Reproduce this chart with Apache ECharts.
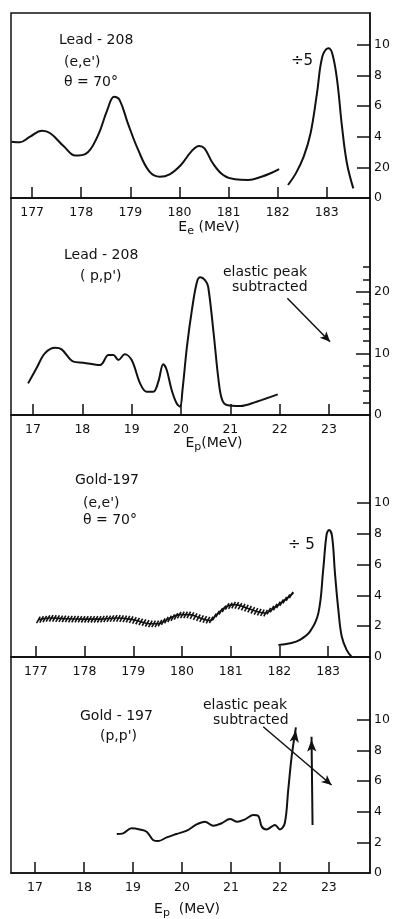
<!DOCTYPE html>
<html>
<head>
<meta charset="utf-8">
<script src="https://cdn.jsdelivr.net/npm/echarts@6/dist/echarts.min.js"></script>
<style>
html,body{margin:0;padding:0;background:#fff;}
#chart{width:394px;height:919px;}
</style>
</head>
<body>
<div id="chart"></div>
<script>
// ---------- Panel 1: Lead-208 (e,e') ----------
const p1TickX = [177, 178, 179, 180, 181, 182, 183];
const p1TickLabelsY = ['0', '20', '4', '6', '8', '10'];
const p1TickValsY = [0, 2, 4, 6, 8, 10];
const p1X = [176.58, 176.75, 176.96, 177.20, 177.37, 177.65, 177.88, 178.09, 178.33, 178.53, 178.67, 178.78, 178.95, 179.16, 179.39, 179.60, 179.80, 180.03, 180.24, 180.40, 180.51, 180.68, 180.89, 181.13, 181.40, 181.67, 181.88, 182.03];
const p1Y = [3.68, 3.64, 4.01, 4.40, 4.23, 3.36, 2.77, 2.88, 4.01, 5.75, 6.62, 6.41, 4.88, 3.14, 1.72, 1.39, 1.55, 2.16, 3.03, 3.40, 3.25, 2.27, 1.50, 1.22, 1.18, 1.39, 1.65, 1.88];
const p1PeakX = [182.21, 182.37, 182.53, 182.67, 182.80, 182.91, 183.03, 183.11, 183.21, 183.31, 183.41, 183.54];
const p1PeakY = [0.85, 1.61, 2.70, 4.23, 6.84, 9.24, 9.78, 9.46, 7.71, 4.66, 2.27, 0.63];

// ---------- Panel 2: Lead-208 (p,p') ----------
const p2TickX = [17, 18, 19, 20, 21, 22, 23];
const p2MajorY = [0, 10, 20];
const p2MinorY = [2, 4, 6, 8, 12, 14, 16, 18, 22, 24];
const p2X = [16.90, 17.07, 17.24, 17.45, 17.58, 17.82, 18.02, 18.36, 18.53, 18.63, 18.73, 18.86, 19.00, 19.17, 19.30, 19.44, 19.54, 19.64, 19.71, 19.81, 19.91, 19.98, 20.03, 20.12, 20.22, 20.32, 20.39, 20.49, 20.55, 20.66, 20.76, 20.83, 20.93, 21.20, 21.53, 21.96];
const p2Y = [5.13, 7.57, 10.0, 10.9, 10.65, 8.65, 8.49, 8.11, 9.73, 9.73, 8.92, 9.84, 8.92, 5.13, 3.79, 3.79, 5.40, 8.22, 7.30, 4.06, 1.90, 1.35, 4.06, 11.1, 17.0, 21.5, 22.35, 21.85, 20.8, 13.3, 5.68, 2.54, 1.62, 1.46, 2.16, 3.35];
const p2Arrow = [[22.155, 18.93], [23.02, 11.89]];

// ---------- Panel 3: Gold-197 (e,e') ----------
const p3TickX = [177, 178, 179, 180, 181, 182, 183];
const p3TickValsY = [0, 2, 4, 6, 8, 10];
const p3X = [177.05, 177.29, 177.63, 177.97, 178.31, 178.66, 178.93, 179.14, 179.34, 179.51, 179.69, 179.96, 180.16, 180.37, 180.58, 180.71, 180.92, 181.09, 181.33, 181.53, 181.71, 181.88, 182.08, 182.29];
const p3Y = [2.42, 2.53, 2.48, 2.46, 2.46, 2.53, 2.46, 2.31, 2.16, 2.16, 2.42, 2.75, 2.75, 2.53, 2.37, 2.75, 3.29, 3.40, 3.18, 2.96, 2.85, 3.18, 3.62, 4.16];
const p3PeakX = [181.98, 182.22, 182.42, 182.63, 182.80, 182.90, 182.97, 183.02, 183.08, 183.14, 183.21, 183.28, 183.38, 183.48];
const p3PeakY = [0.78, 0.89, 1.11, 1.66, 2.85, 5.69, 7.97, 8.24, 7.86, 5.47, 3.07, 1.33, 0.46, 0.02];

// ---------- Panel 4: Gold-197 (p,p') ----------
const p4TickX = [17, 18, 19, 20, 21, 22, 23];
const p4TickValsY = [0, 2, 4, 6, 8, 10];
const p4X = [18.67, 18.80, 18.97, 19.14, 19.28, 19.41, 19.52, 19.69, 19.89, 20.10, 20.30, 20.47, 20.64, 20.81, 20.98, 21.13, 21.29, 21.46, 21.56, 21.63, 21.73, 21.83, 21.90, 22.00, 22.10, 22.17, 22.24, 22.327];
const p4Y = [2.55, 2.59, 2.92, 2.85, 2.70, 2.16, 2.09, 2.33, 2.55, 2.77, 3.18, 3.35, 3.09, 3.25, 3.53, 3.35, 3.51, 3.79, 3.73, 3.03, 2.85, 3.03, 3.14, 2.85, 3.25, 5.42, 7.60, 9.52];
const p4SecondX = [22.667, 22.646];
const p4SecondY = [3.14, 8.91];
const p4Arrow = [[21.66, 9.56], [23.055, 5.75]];

const INK = '#111';
const FONT = 'DejaVu Sans';

function zip(xs, ys) { return xs.map((x, i) => [x, ys[i]]); }

const grids = [
  {left: 11, top: 13, width: 359, height: 185},
  {left: 11, top: 198, width: 359, height: 217},
  {left: 11, top: 415, width: 359, height: 242},
  {left: 11, top: 657, width: 359, height: 216}
].map(g => Object.assign({show: true, borderColor: INK, borderWidth: 1.5, backgroundColor: 'transparent'}, g));

function xAxis(gi, min, max, ticks) {
  return {
    type: 'value', gridIndex: gi, min: min, max: max, position: 'bottom',
    splitLine: {show: false},
    axisLine: {show: true, onZero: false, lineStyle: {color: INK, width: 1.5}},
    axisTick: {show: true, inside: true, length: 11, customValues: ticks, lineStyle: {color: INK, width: 1.5}},
    axisLabel: {show: true, customValues: ticks, margin: 8, color: INK, fontFamily: FONT, fontSize: 12.5}
  };
}
function yAxis(gi, max, tickVals, labelVals, labelFmt, tickLen, showLine, showLabels) {
  return {
    type: 'value', gridIndex: gi, min: 0, max: max, position: 'right',
    splitLine: {show: false},
    axisLine: {show: showLine, lineStyle: {color: INK, width: 1.5}},
    axisTick: {show: true, inside: true, length: tickLen, customValues: tickVals, lineStyle: {color: INK, width: 1.5}},
    axisLabel: {show: showLabels, customValues: labelVals, margin: 4, color: INK, fontFamily: FONT, fontSize: 12.5,
      formatter: labelFmt}
  };
}

const curveStyle = {color: INK, width: 2};
function curve(xi, yi, data, smooth) {
  return {type: 'line', xAxisIndex: xi, yAxisIndex: yi, data: data, smooth: smooth,
    symbol: 'none', showSymbol: false, lineStyle: curveStyle, itemStyle: {color: INK}, silent: true, z: 3};
}
function arrowLine(xi, yi, pts) {
  return {type: 'line', xAxisIndex: xi, yAxisIndex: yi, data: [], silent: true,
    markLine: {silent: true, symbol: ['none', 'arrow'], symbolSize: [7, 10], animation: false,
      label: {show: false}, lineStyle: {color: INK, width: 1.5, type: 'solid'},
      data: [[{coord: pts[0]}, {coord: pts[1]}]]}};
}

const p3Pts = zip(p3X, p3Y);
const hatchSeries = {
  type: 'custom', xAxisIndex: 2, yAxisIndex: 3, data: p3Pts, silent: true, z: 4,
  encode: {x: 0, y: 1},
  renderItem: function (params, api) {
    const i = params.dataIndex;
    if (i >= p3Pts.length - 1) return null;
    const a = api.coord(p3Pts[i]);
    const b = api.coord(p3Pts[i + 1]);
    const step = 3.2;
    const children = [];
    let x = Math.ceil(a[0] / step) * step;
    for (; x < b[0]; x += step) {
      const t = (x - a[0]) / (b[0] - a[0]);
      const y = a[1] + t * (b[1] - a[1]);
      children.push({type: 'line', shape: {x1: x - 1.8, y1: y + 3.4, x2: x + 1.8, y2: y - 3.0},
        style: {stroke: INK, lineWidth: 1.6}});
    }
    return {type: 'group', children: children};
  }
};

const p4Data = zip(p4X, p4Y).map((p, i, arr) => i === arr.length - 1
  ? {value: p, symbol: 'arrow', symbolSize: [7, 12], symbolRotate: -8, symbolOffset: [0, 3]}
  : {value: p, symbol: 'none'});
const p4SecondData = zip(p4SecondX, p4SecondY).map((p, i) => i === 1
  ? {value: p, symbol: 'arrow', symbolSize: [7, 12], symbolRotate: 1, symbolOffset: [0, 3]}
  : {value: p, symbol: 'none'});

function txt(x, y, text, size, align) {
  return {type: 'text', x: x, y: y, silent: true, z: 10,
    style: {text: text, fill: INK, font: (size || 14) + 'px "' + FONT + '"', textAlign: align || 'left', textVerticalAlign: 'middle'}};
}
function subTitle(cx, cy, sub, rest) {
  return {type: 'text', x: cx, y: cy, silent: true, z: 10,
    style: {text: '{a|E}{s|' + sub + '}{a|' + rest + '}', textAlign: 'center', textVerticalAlign: 'middle',
      fill: INK,
      rich: {a: {fontFamily: FONT, fontSize: 14, fill: INK, lineHeight: 18},
             s: {fontFamily: FONT, fontSize: 11, fill: INK, padding: [8, 0, 0, 0], lineHeight: 18}}}};
}

const option = {
  animation: false,
  backgroundColor: '#fff',
  grid: grids,
  xAxis: [
    xAxis(0, 176.57, 183.88, p1TickX),
    xAxis(1, 16.554, 23.83, p2TickX),
    xAxis(2, 176.49, 183.86, p3TickX),
    xAxis(3, 16.51, 23.84, p4TickX)
  ],
  yAxis: [
    yAxis(0, 12.09, [2, 4, 6, 8, 10], p1TickValsY, v => p1TickLabelsY[p1TickValsY.indexOf(v)] ?? '', 13, true, true),
    yAxis(1, 35.2, [10, 20], p2MajorY, v => String(v), 14, true, true),
    yAxis(1, 35.2, p2MinorY, [], v => '', 7, false, false),
    yAxis(2, 15.71, [2, 4, 6, 8, 10], p3TickValsY, v => String(v), 13, true, true),
    yAxis(3, 14.12, [2, 4, 6, 8, 10], p4TickValsY, v => String(v), 13, true, true)
  ],
  series: [
    curve(0, 0, zip(p1X, p1Y), 0.4),
    curve(0, 0, zip(p1PeakX, p1PeakY), 0.4),
    curve(1, 1, zip(p2X, p2Y), 0.35),
    arrowLine(1, 1, p2Arrow),
    Object.assign(curve(2, 3, p3Pts, 0.4), {lineStyle: {color: INK, width: 1.6}}),
    hatchSeries,
    curve(2, 3, zip(p3PeakX, p3PeakY), 0.4),
    Object.assign(curve(3, 4, p4Data, 0.35), {showSymbol: true}),
    Object.assign(curve(3, 4, p4SecondData, false), {showSymbol: true}),
    arrowLine(3, 4, p4Arrow)
  ],
  graphic: [
    txt(59, 40, 'Lead - 208'),
    txt(64, 62, "(e,e')"),
    txt(64, 82, 'θ = 70°'),
    txt(291, 61, '÷5', 15),
    subTitle(209, 227, 'e', ' (MeV)'),
    txt(64, 255, 'Lead - 208'),
    txt(80, 276, "( p,p')"),
    txt(223, 272, 'elastic peak'),
    txt(232, 287, 'subtracted'),
    subTitle(214, 443, 'p', '(MeV)'),
    txt(75, 480, 'Gold-197'),
    txt(83, 503, "(e,e')"),
    txt(83, 520, 'θ = 70°'),
    txt(288, 545, '÷ 5', 15),
    txt(80, 716, 'Gold - 197'),
    txt(100, 736, "(p,p')"),
    txt(203, 705, 'elastic peak'),
    txt(213, 720, 'subtracted'),
    subTitle(187, 909, 'p', '  (MeV)')
  ]
};

const chart = echarts.init(document.getElementById('chart'), null, {renderer: 'canvas'});
chart.setOption(option);
</script>
</body>
</html>
